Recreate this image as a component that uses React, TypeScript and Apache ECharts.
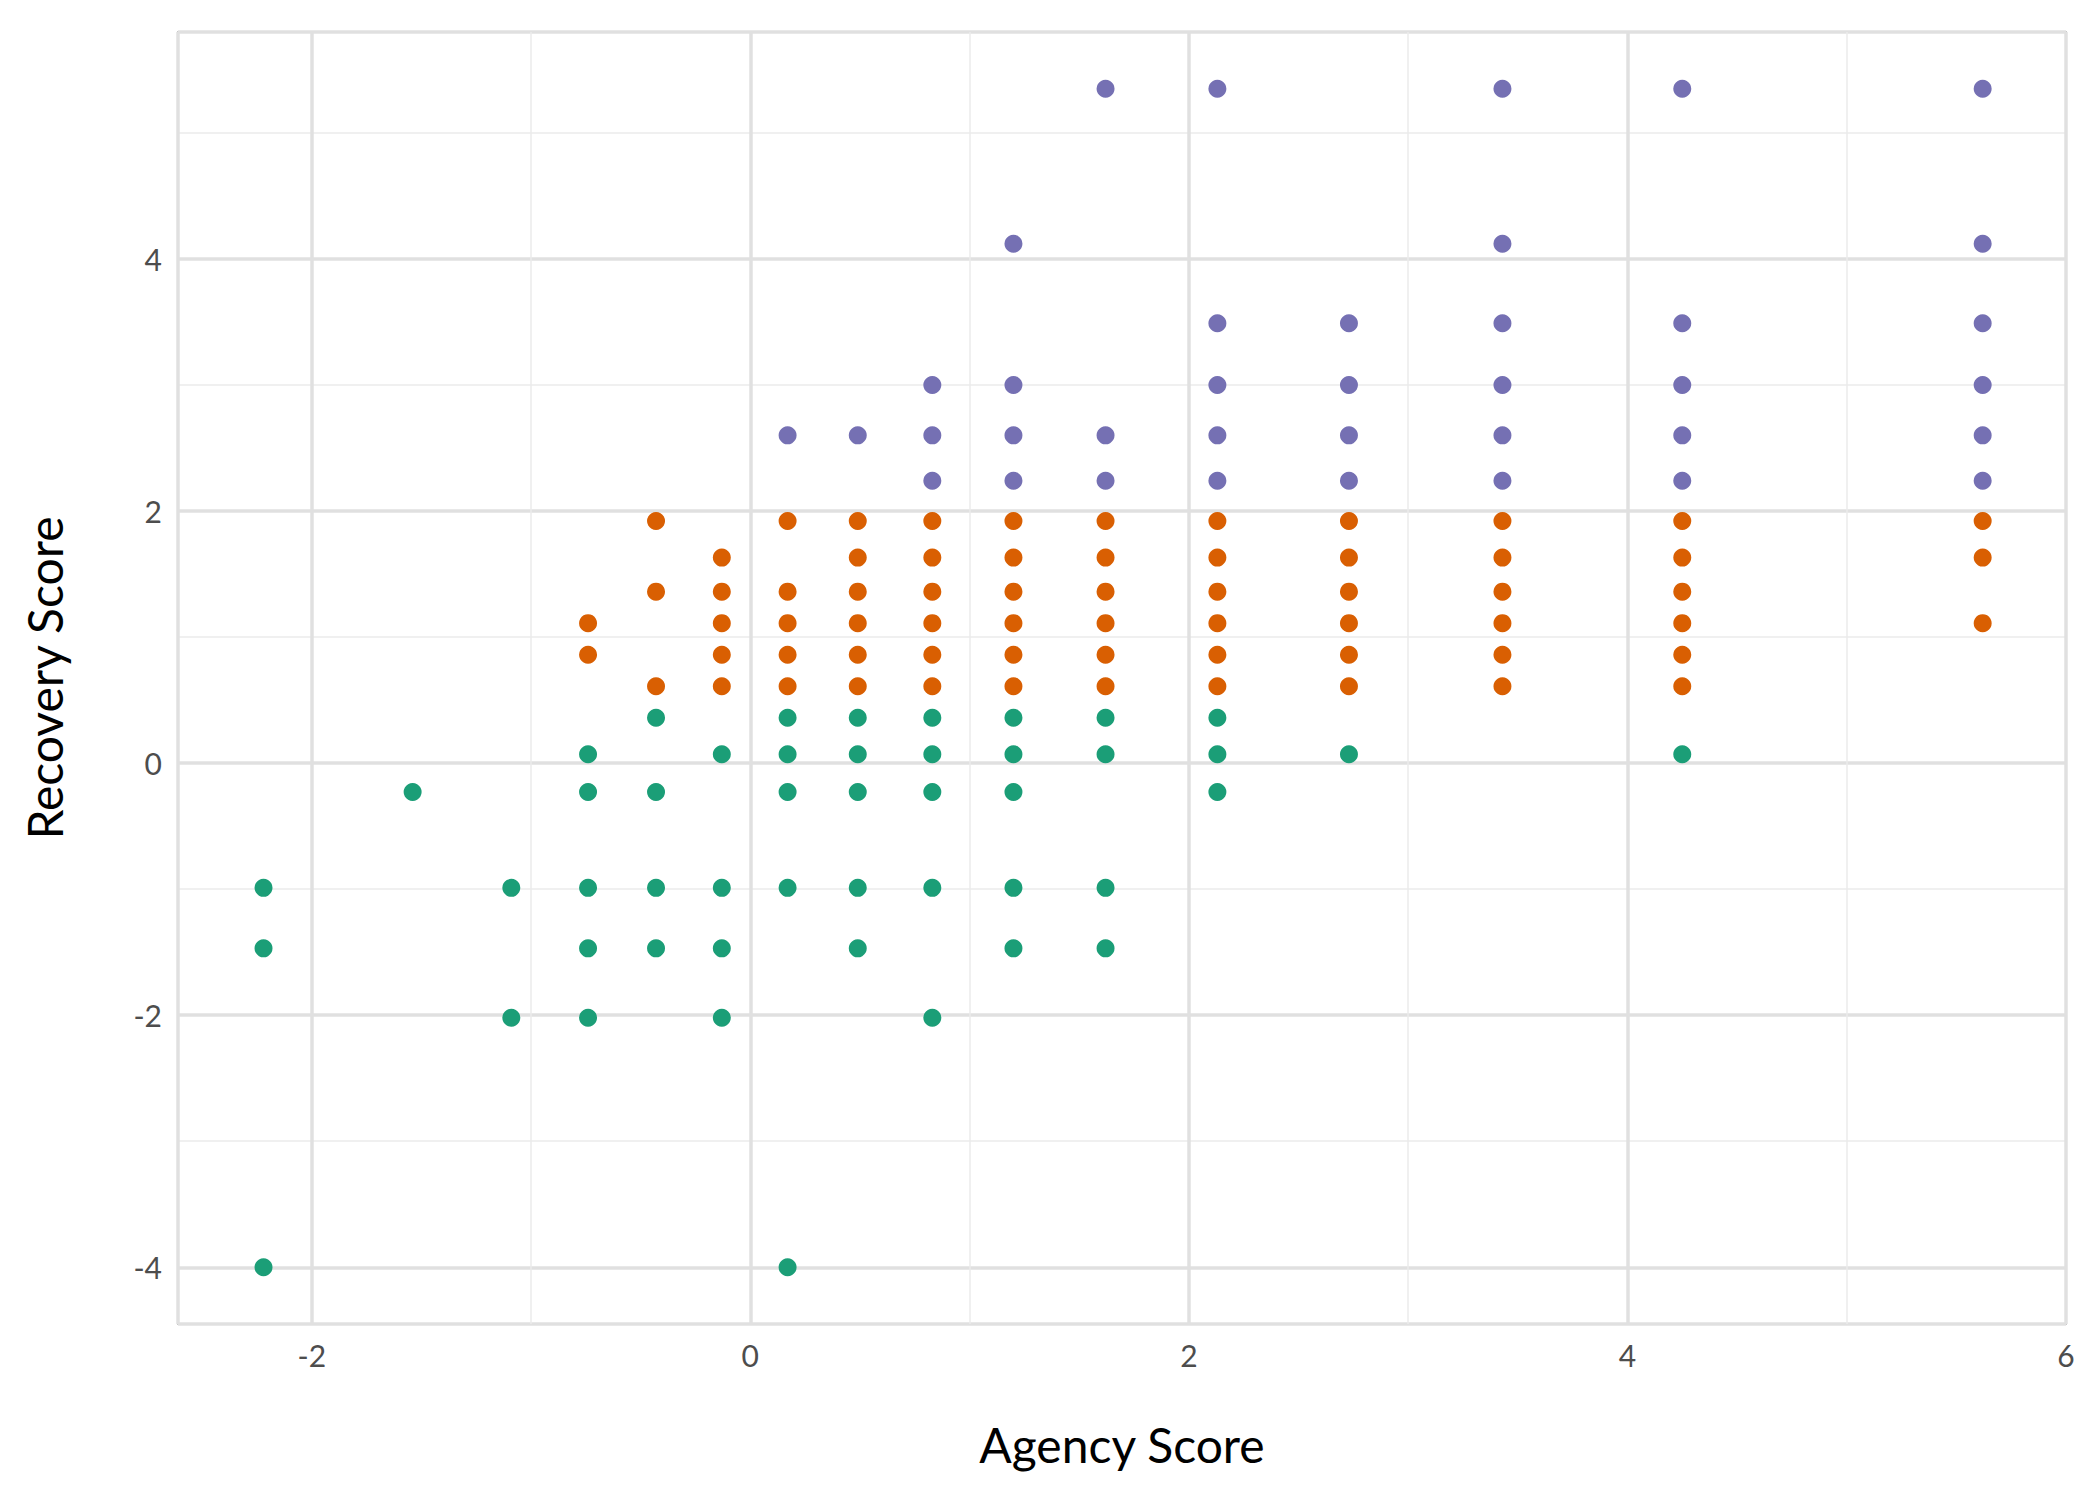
import { useEffect, useRef } from "react"
import * as echarts from "echarts"

// [agency, recovery] pairs
const lowPoints: [number, number][] = [
  [-2.22, -0.99], [-2.22, -1.47], [-2.22, -4.0],
  [-1.54, -0.23],
  [-1.09, -0.99], [-1.09, -2.02],
  [-0.74, 0.07], [-0.74, -0.23], [-0.74, -0.99], [-0.74, -1.47], [-0.74, -2.02],
  [-0.43, 0.36], [-0.43, -0.23], [-0.43, -0.99], [-0.43, -1.47],
  [-0.13, 0.07], [-0.13, -0.99], [-0.13, -1.47], [-0.13, -2.02],
  [0.17, 0.36], [0.17, 0.07], [0.17, -0.23], [0.17, -0.99], [0.17, -4.0],
  [0.49, 0.36], [0.49, 0.07], [0.49, -0.23], [0.49, -0.99], [0.49, -1.47],
  [0.83, 0.36], [0.83, 0.07], [0.83, -0.23], [0.83, -0.99], [0.83, -2.02],
  [1.2, 0.36], [1.2, 0.07], [1.2, -0.23], [1.2, -0.99], [1.2, -1.47],
  [1.62, 0.36], [1.62, 0.07], [1.62, -0.99], [1.62, -1.47],
  [2.13, 0.36], [2.13, 0.07], [2.13, -0.23],
  [2.73, 0.07],
  [4.25, 0.07],
]

const fullMid = [1.92, 1.63, 1.36, 1.11, 0.86, 0.61]
const midColumns = [0.49, 0.83, 1.2, 1.62, 2.13, 2.73, 3.43, 4.25]
const midPoints: [number, number][] = [
  [-0.74, 1.11], [-0.74, 0.86],
  [-0.43, 1.92], [-0.43, 1.36], [-0.43, 0.61],
  [-0.13, 1.63], [-0.13, 1.36], [-0.13, 1.11], [-0.13, 0.86], [-0.13, 0.61],
  [0.17, 1.92], [0.17, 1.36], [0.17, 1.11], [0.17, 0.86], [0.17, 0.61],
  ...midColumns.flatMap((x) => fullMid.map((y) => [x, y] as [number, number])),
  [5.62, 1.92], [5.62, 1.63], [5.62, 1.11],
]

const highPoints: [number, number][] = [
  [0.17, 2.6],
  [0.49, 2.6],
  [0.83, 3.0], [0.83, 2.6], [0.83, 2.24],
  [1.2, 4.12], [1.2, 3.0], [1.2, 2.6], [1.2, 2.24],
  [1.62, 5.35], [1.62, 2.6], [1.62, 2.24],
  [2.13, 5.35], [2.13, 3.49], [2.13, 3.0], [2.13, 2.6], [2.13, 2.24],
  [2.73, 3.49], [2.73, 3.0], [2.73, 2.6], [2.73, 2.24],
  [3.43, 5.35], [3.43, 4.12], [3.43, 3.49], [3.43, 3.0], [3.43, 2.6], [3.43, 2.24],
  [4.25, 5.35], [4.25, 3.49], [4.25, 3.0], [4.25, 2.6], [4.25, 2.24],
  [5.62, 5.35], [5.62, 4.12], [5.62, 3.49], [5.62, 3.0], [5.62, 2.6], [5.62, 2.24],
]

const evenLabel = (v: number) => (Math.abs(v % 2) < 1e-9 ? String(v) : "")

export default function App() {
  const ref = useRef<HTMLDivElement>(null)

  useEffect(() => {
    if (!ref.current) return
    const chart = echarts.init(ref.current, null, { renderer: "svg" })
    const font = "Lato"
    const axisCommon = {
      type: "value" as const,
      axisLine: { show: false },
      axisTick: { show: false },
      axisLabel: { color: "#4d4d4d", fontSize: 30, fontFamily: font, formatter: evenLabel, margin: 16 },
      splitLine: { lineStyle: { color: "#e0e0e0", width: 3.5 } },
      minorTick: { show: false, splitNumber: 2 },
      minorSplitLine: { show: true, lineStyle: { color: "#ebebeb", width: 1.5 } },
      nameLocation: "middle" as const,
      nameTextStyle: { color: "#000", fontSize: 48, fontFamily: font },
    }
    const series = [
      { data: lowPoints, color: "#1b9e77" },
      { data: midPoints, color: "#d95f02" },
      { data: highPoints, color: "#7570b3" },
    ].map((s) => ({
      type: "scatter" as const,
      data: s.data,
      symbolSize: 18,
      itemStyle: { color: s.color, opacity: 1 },
    }))
    chart.setOption({
      animation: false,
      backgroundColor: "#fff",
      grid: {
        left: 170, right: 26, top: 24, bottom: 168,
        show: true, borderColor: "#a0a0a0", borderWidth: 1.5, backgroundColor: "transparent",
      },
      xAxis: { ...axisCommon, min: -2.61, max: 6, splitNumber: 4, name: "Agency Score", nameGap: 96 },
      yAxis: { ...axisCommon, min: -4.45, max: 5.8, splitNumber: 5, name: "Recovery Score", nameGap: 110 },
      series,
    })
    return () => chart.dispose()
  }, [])

  return <div ref={ref} style={{ width: 2084, height: 1484 }} />
}
